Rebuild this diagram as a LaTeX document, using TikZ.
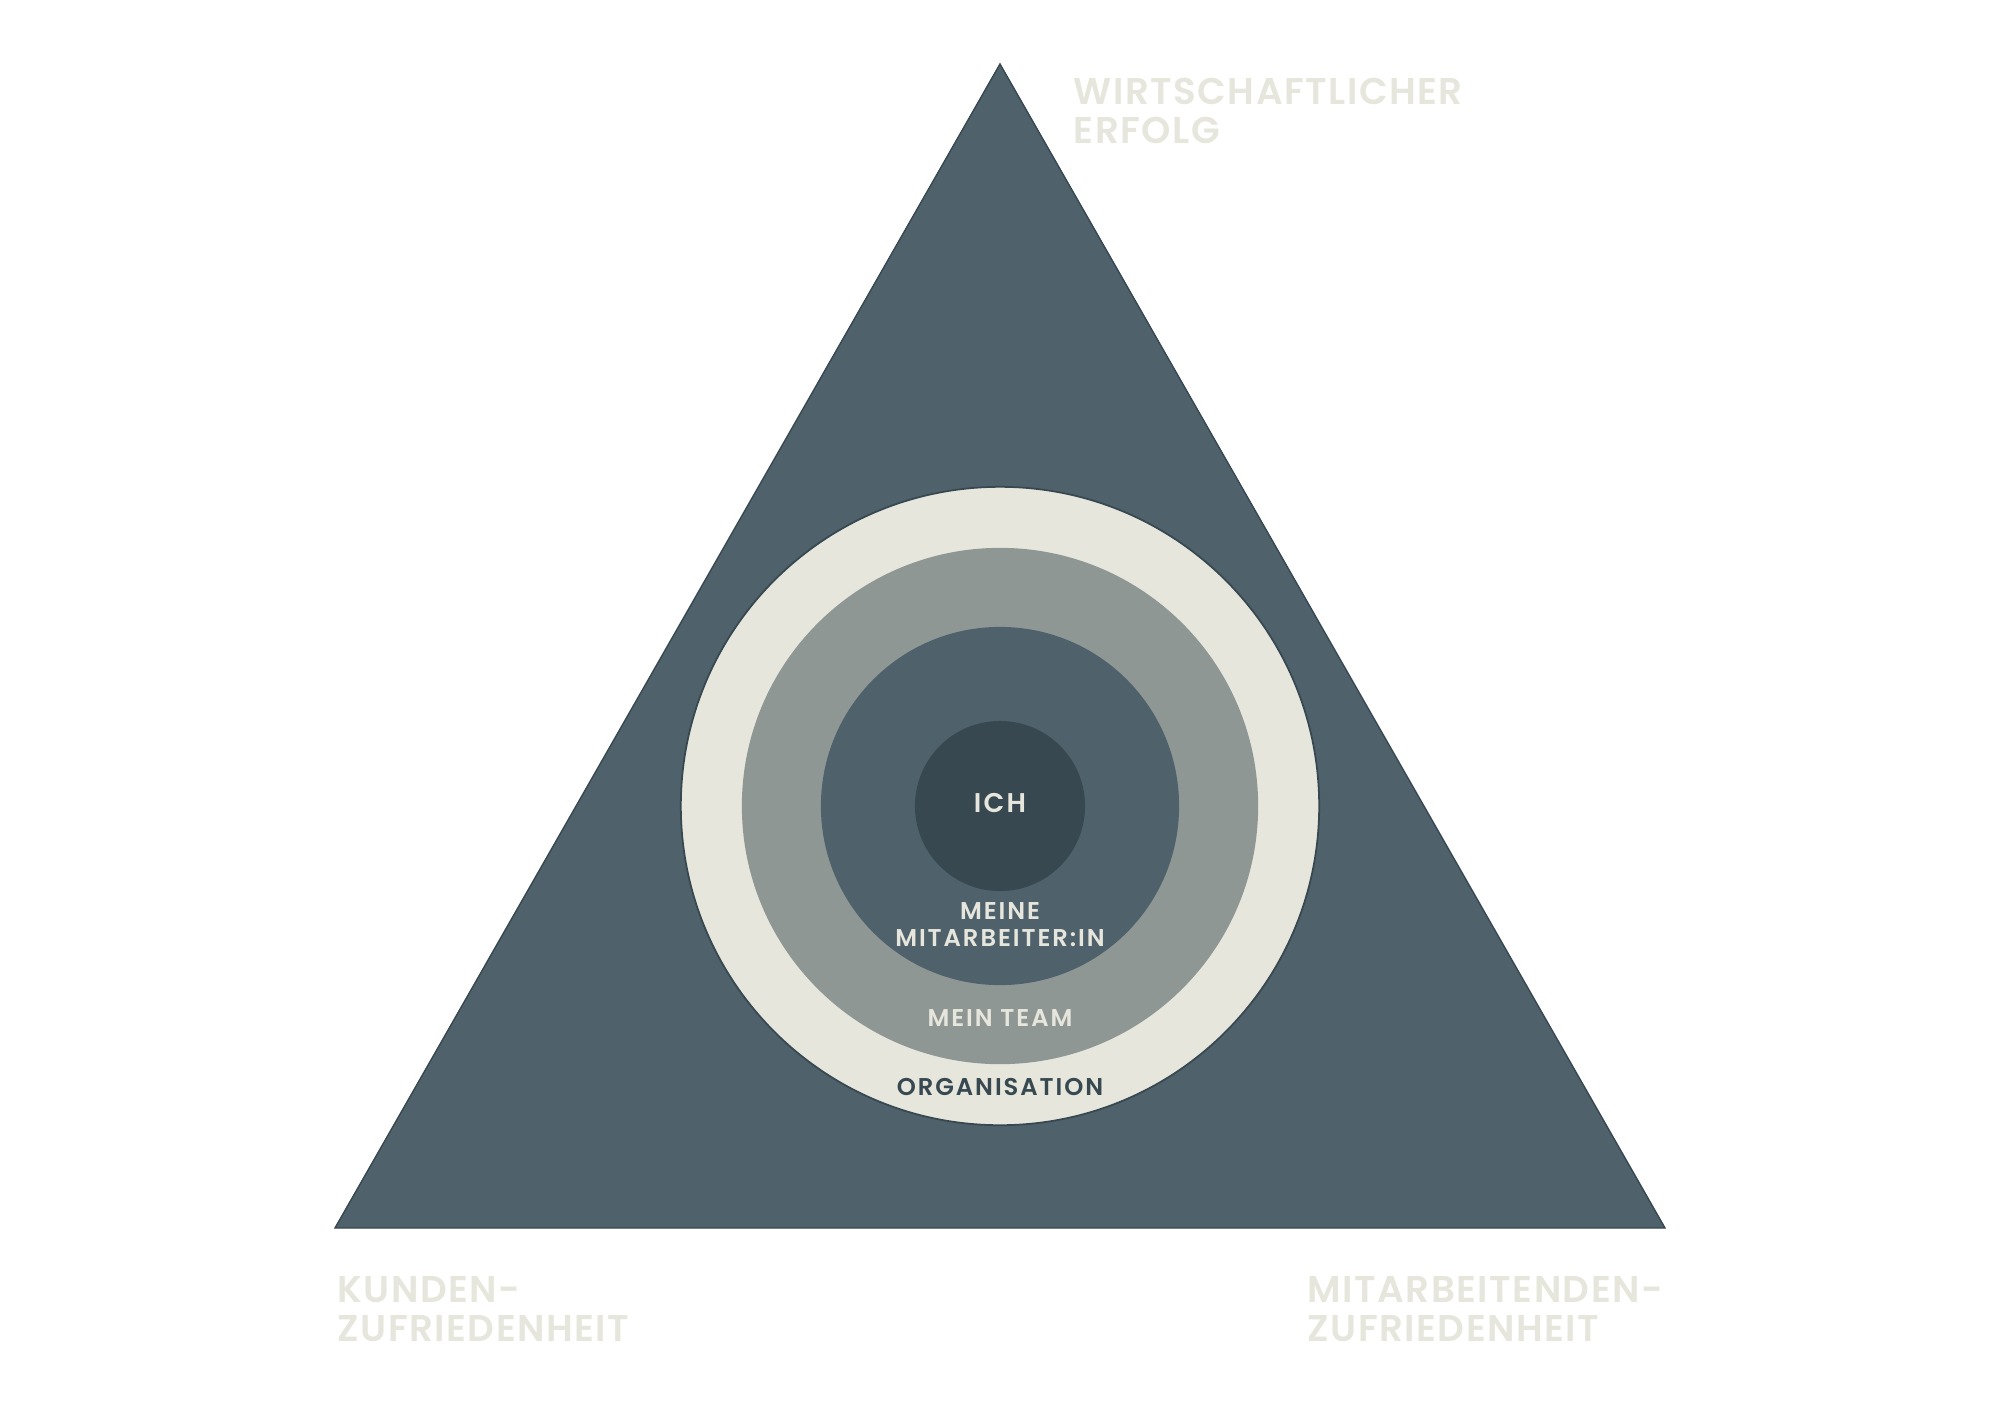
\documentclass[tikz,border=0pt]{standalone}
\usepackage{fontspec}
\setmainfont{Poppins}[BoldFont = Poppins SemiBold]
\definecolor{slate}{HTML}{4F616B}
\definecolor{cream}{HTML}{E6E6DD}
\definecolor{stone}{HTML}{8E9794}
\definecolor{ink}{HTML}{374850}
\begin{document}
\begin{tikzpicture}[x=0.01cm, y=-0.01cm,
        ring/.style = { circle, inner sep = 0pt},
        corner/.style = { anchor = north west, inner sep = 0pt, align = left, text = cream,
            font = \fontsize{10.6}{11.1}\selectfont\bfseries\addfontfeatures{LetterSpace=4}},
        level/.style = { inner sep = 0pt, align = center, text = cream,
            font = \fontsize{6.9}{7.7}\selectfont\bfseries\addfontfeatures{LetterSpace=8}}]

    \useasboundingbox (0,0) rectangle (2000,1414);

    % Triangle
    \coordinate (top) at (1000,64);
    \coordinate (left) at (335,1228);
    \coordinate (right) at (1665,1228);
    \draw[fill=slate, draw=ink, line width=0.4pt] (top) -- (left) -- (right) -- cycle;

    % Circles
    \node[ring, fill=cream, draw=ink, line width=0.5pt, minimum size=6.38cm] (org) at (1000,806) {};
    \node[ring, fill=stone, minimum size=5.16cm] (team) at (org.center) {};
    \node[ring, fill=slate, minimum size=3.58cm] (staff) at (org.center) {};
    \node[ring, fill=ink, minimum size=1.70cm] (me) at (org.center) {};

    % Circle labels
    \node[level, font=\fontsize{7.7}{8}\selectfont\bfseries\addfontfeatures{LetterSpace=8}] at (1000,803) {ICH};
    \node[level] at (1000,925) {MEINE\\MITARBEITER:IN};
    \node[level] at (1000,1018) {MEIN TEAM};
    \node[level, text=ink] at (1000,1087) {ORGANISATION};

    % Corner labels
    \node[corner] (profit) at (1073,77) {WIRTSCHAFTLICHER\\ERFOLG};
    \node[corner] (clients) at (337,1276) {KUNDEN-\\ZUFRIEDENHEIT};
    \node[corner] (employees) at (1307,1276) {MITARBEITENDEN-\\ZUFRIEDENHEIT};

\end{tikzpicture}
\end{document}
